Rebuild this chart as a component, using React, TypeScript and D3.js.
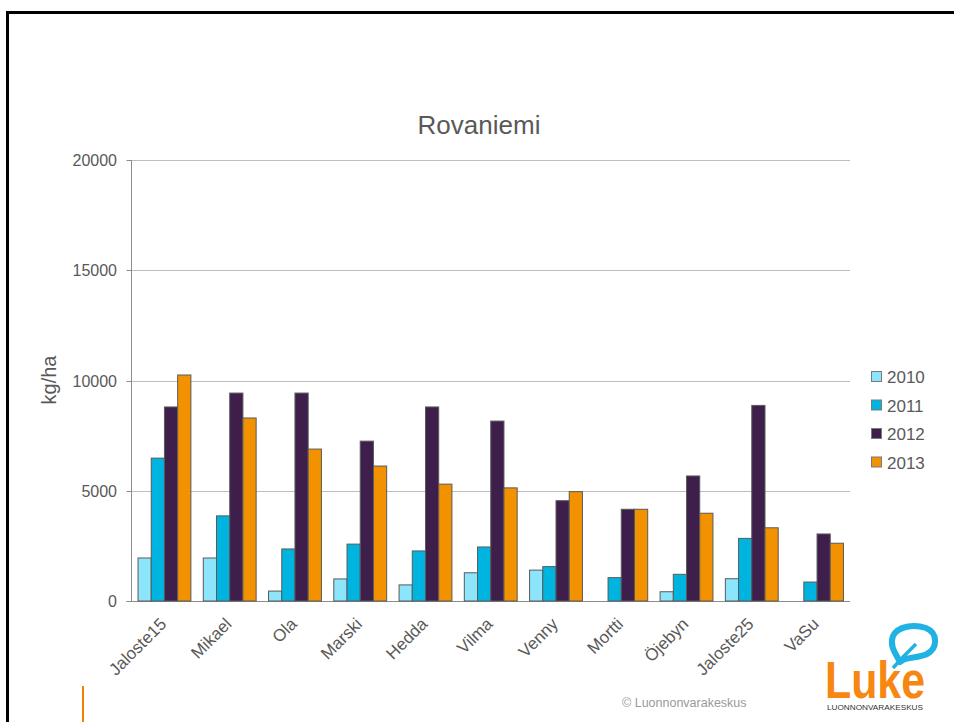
import * as d3 from "d3";

const categories = ["Jaloste15", "Mikael", "Ola", "Marski", "Hedda", "Vilma", "Venny", "Mortti", "Öjebyn", "Jaloste25", "VaSu"];
const years = ["2010", "2011", "2012", "2013"];
const values2010 = [1950, 1950, 450, 1000, 730, 1280, 1400, 0, 420, 1010, 0];
const values2011 = [6480, 3860, 2360, 2580, 2270, 2450, 1560, 1060, 1210, 2840, 860];
const values2012 = [8800, 9430, 9430, 7250, 8800, 8160, 4550, 4160, 5670, 8870, 3040];
const values2013 = [10250, 8300, 6890, 6120, 5300, 5130, 4960, 4160, 3980, 3320, 2620];
const yTicks = [0, 5000, 10000, 15000, 20000];

const series = [values2010, values2011, values2012, values2013];
const colors = ["#8de5fb", "#00b4e0", "#3e1f4c", "#f39200"];

const W = 954;
const H = 722;
const left = 131.5;
const right = 850;
const top = 160;
const bottom = 601;
const textColor = "#595959";
const font = "'Liberation Sans', Arial, sans-serif";

export default function App() {
  const x = d3.scaleBand<string>().domain(categories).range([left, right]).paddingInner(0.19).paddingOuter(0.1);
  const x1 = d3.scaleBand<string>().domain(years).range([0, x.bandwidth()]);
  const y = d3.scaleLinear().domain([0, 20000]).range([bottom, top]);

  return (
    <div style={{ position: "absolute", left: 0, top: 0 }}>
      <svg width={W} height={H} style={{ display: "block", fontFamily: font }}>
        <rect width={W} height={H} fill="#fff" />
        <rect x={7.5} y={12.5} width={W + 20} height={H + 20} fill="none" stroke="#000" strokeWidth={3} />

        <text x={479} y={134} textAnchor="middle" fontSize={26} fill={textColor}>Rovaniemi</text>

        {yTicks.map((t) => (
          <g key={t}>
            {t > 0 && <line x1={left} x2={right} y1={Math.round(y(t)) + 0.5} y2={Math.round(y(t)) + 0.5} stroke="#bdbdbd" />}
            <line x1={left - 5} x2={left} y1={Math.round(y(t)) + 0.5} y2={Math.round(y(t)) + 0.5} stroke="#8c8c8c" />
            <text x={117} y={y(t) + 6} textAnchor="end" fontSize={16} fill={textColor}>{t}</text>
          </g>
        ))}
        <line x1={left} x2={left} y1={top} y2={bottom} stroke="#8c8c8c" />
        <line x1={left - 5} x2={right} y1={bottom + 0.5} y2={bottom + 0.5} stroke="#8c8c8c" />

        <text transform="translate(56,380) rotate(-90)" textAnchor="middle" fontSize={20} fill={textColor}>kg/ha</text>

        {categories.map((c, i) => (
          <g key={c} transform={`translate(${x(c)},0)`}>
            {years.map((yr, j) => {
              const v = series[j][i];
              if (v <= 0) return null;
              return (
                <rect
                  key={yr}
                  x={x1(yr)}
                  y={y(v)}
                  width={x1.bandwidth()}
                  height={bottom - y(v)}
                  fill={colors[j]}
                  stroke="#5a5a5a"
                  strokeWidth={1}
                />
              );
            })}
          </g>
        ))}

        {categories.map((c) => (
          <text
            key={c}
            transform={`translate(${(x(c) ?? 0) + x.bandwidth() / 2 + 3},625) rotate(-45)`}
            textAnchor="end"
            fontSize={17}
            fill={textColor}
          >
            {c}
          </text>
        ))}

        {years.map((yr, j) => (
          <g key={yr} transform={`translate(0,${377 + j * 28.5})`}>
            <rect x={871.5} y={-5.5} width={10} height={10} fill={colors[j]} stroke="#7a7a7a" />
            <text x={887} y={6} fontSize={17} fill={textColor}>{yr}</text>
          </g>
        ))}

        <text x={622} y={707} fontSize={12.5} fill="#9a9a9a">© Luonnonvarakeskus</text>
        <line x1={83} x2={83} y1={686} y2={722} stroke="#f57f00" strokeWidth={2} />

        <g>
          <path
            d="M900,662 C896,654 889,646 893,636 C898,626 914,624 926,628 C938,633 938,648 927,654 C919,658 908,657 903,660 Z"
            fill="none"
            stroke="#20b2e3"
            strokeWidth={6}
            strokeLinejoin="round"
          />
          <path d="M893,668 L902,658 M902,658 L916,644" stroke="#20b2e3" strokeWidth={3.5} fill="none" />
          <text x={825} y={698} fontSize={52} fontWeight="bold" fill="#f68712" textLength={100} lengthAdjust="spacingAndGlyphs">Luke</text>
          <text x={827} y={710} fontSize={8} fill="#333" textLength={96} lengthAdjust="spacingAndGlyphs">LUONNONVARAKESKUS</text>
        </g>
      </svg>
    </div>
  );
}
